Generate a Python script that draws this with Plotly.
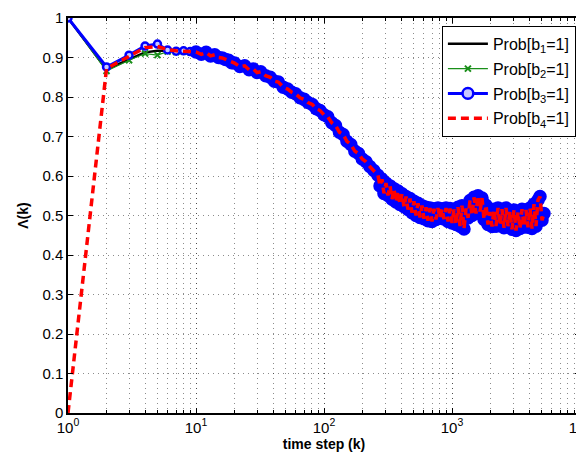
import plotly.graph_objects as go

# ---- data ----
# early steps k = 1..9 (series differ here)
k_head = [1, 2, 3, 4, 5, 6, 7, 8, 9]
b1_head = [1.0, 0.870, 0.895, 0.913, 0.917, 0.918, 0.917, 0.916, 0.915]
b2_head = [1.0, 0.866, 0.893, 0.910, 0.906, 0.915, 0.914, 0.915, 0.914]
b3_head = [1.0, 0.876, 0.906, 0.929, 0.934, 0.919, 0.916, 0.917, 0.915]
b4_head = [0.0, 0.872, 0.903, 0.925, 0.928, 0.920, 0.917, 0.917, 0.915]

# k >= 10: all four series coincide
k_tail = [10, 11, 12, 13, 14, 15, 16, 17, 18, 19, 20, 22, 24, 26, 28, 30, 32, 35, 38, 41,
          44, 48, 52, 56, 60, 65, 70, 75, 81, 87, 93, 100, 107, 115, 123, 132, 141, 151, 162,
          174, 186, 199, 213, 228, 245,
          264, 274, 284, 294, 305, 316, 328, 340, 352, 365, 379, 392, 407, 422, 437, 453, 470,
          487, 505, 523, 543, 562, 583, 604, 627, 649, 673, 698, 723, 750, 777, 806, 835, 866,
          898, 931, 965, 1000, 1037, 1075, 1114, 1155, 1197, 1241, 1287, 1334, 1383, 1433,
          1486, 1540, 1597, 1655, 1716, 1778, 1844, 1911, 1981, 2054, 2129, 2207, 2288, 2371,
          2458, 2548, 2642, 2738, 2839, 2943, 3050, 3162, 3278, 3398, 3522, 3652, 3785, 3924,
          4068, 4217, 4371, 4532, 4698, 4870, 5048, 5233]
v_tail = [0.914, 0.908, 0.913, 0.904, 0.907, 0.900, 0.899, 0.895, 0.893, 0.887, 0.886, 0.877,
          0.879, 0.869, 0.871, 0.862, 0.864, 0.854, 0.850, 0.840, 0.838, 0.825, 0.820, 0.812,
          0.808, 0.798, 0.794, 0.786, 0.781, 0.770, 0.766, 0.755, 0.750, 0.735, 0.728, 0.711,
          0.705, 0.688, 0.680, 0.663, 0.657, 0.643, 0.636, 0.624, 0.614,
          0.602, 0.575, 0.592, 0.556, 0.582, 0.551, 0.575, 0.541, 0.568, 0.534, 0.562, 0.528,
          0.555, 0.522, 0.548, 0.515, 0.543, 0.507, 0.536, 0.500, 0.531, 0.495, 0.525, 0.492,
          0.521, 0.487, 0.519, 0.485, 0.517, 0.490, 0.519, 0.493, 0.517, 0.491, 0.519, 0.485,
          0.518, 0.481, 0.515, 0.477, 0.521, 0.473, 0.525, 0.466, 0.518, 0.494, 0.538, 0.500,
          0.546, 0.505, 0.550, 0.510, 0.544, 0.490, 0.526, 0.477, 0.509, 0.472, 0.516, 0.473,
          0.519, 0.475, 0.516, 0.469, 0.519, 0.473, 0.512, 0.465, 0.514, 0.462, 0.509, 0.467,
          0.516, 0.471, 0.514, 0.470, 0.519, 0.467, 0.529, 0.473, 0.539, 0.548, 0.488, 0.505]

x_tick_vals = [1, 10, 100, 1000, 10000]
x_tick_text = ["10<sup>0</sup>", "10<sup>1</sup>", "10<sup>2</sup>", "10<sup>3</sup>", "10<sup>4</sup>"]
series_names = ["Prob[b<sub>1</sub>=1]", "Prob[b<sub>2</sub>=1]",
                "Prob[b<sub>3</sub>=1]", "Prob[b<sub>4</sub>=1]"]

k_all = k_head + k_tail
b1 = b1_head + v_tail
b2 = b2_head + v_tail
b3 = b3_head + v_tail
b4 = b4_head + v_tail

fig = go.Figure()
fig.add_trace(go.Scatter(x=k_all, y=b1, mode="lines", name=series_names[0], legendgroup="g1",
                         line=dict(color="black", width=2.5)))
fig.add_trace(go.Scatter(x=k_all, y=b2, mode="lines+markers", name=series_names[1], legendgroup="g2",
                         line=dict(color="#1a8f1a", width=1.2),
                         marker=dict(symbol="x-thin", size=6, line=dict(color="#1a8f1a", width=2))))
fill = ["#c8c8ff" if k < 10 else "blue" for k in k_all]
msize = [7 if k < 10 else 11 for k in k_all]
fig.add_trace(go.Scatter(x=k_all, y=b3, mode="lines+markers", name=series_names[2], legendgroup="g3",
                         line=dict(color="blue", width=3),
                         marker=dict(symbol="circle", size=msize, color=fill, opacity=1,
                                     line=dict(color="blue", width=2.5))))
fig.add_trace(go.Scatter(x=k_all, y=b4, mode="lines", name=series_names[3], legendgroup="g4",
                         line=dict(color="red", width=3.5, dash="8px,5px")))

font = "Liberation Sans, Arial, Helvetica, sans-serif"
gcol = "rgba(0,0,0,0.45)"
grid = dict(showgrid=True, gridcolor=gcol, griddash="1px,4px", gridwidth=1)
fig.update_layout(
    width=584, height=453,
    margin=dict(l=60, r=12, t=10, b=48),
    paper_bgcolor="white", plot_bgcolor="white",
    font=dict(family=font, size=15, color="black"),
    showlegend=True,
    legend=dict(x=0.992, xanchor="right", y=0.98, yanchor="top",
                bgcolor="white", bordercolor="black", borderwidth=1,
                font=dict(size=16, family=font), tracegroupgap=1, itemwidth=40),
    xaxis=dict(type="log", range=[0, 4], tickvals=x_tick_vals, ticktext=x_tick_text,
               ticks="inside", ticklen=5, tickcolor="black", mirror="allticks",
               showline=True, linecolor="black", linewidth=1.5, zeroline=False,
               automargin=False, tickfont=dict(size=15), ticklabeloverflow="allow",
               minor=dict(dtick="D1", ticks="inside", ticklen=3, tickcolor="black",
                          showgrid=True, gridcolor=gcol, griddash="1px,4px"),
               title=dict(text="<b>time step (k)</b>", font=dict(size=14), standoff=4),
               **grid),
    yaxis=dict(range=[0, 1], dtick=0.1, ticks="inside", ticklen=5, tickcolor="black",
               mirror="allticks", showline=True, linecolor="black", linewidth=1.5,
               zeroline=False, automargin=False, tickfont=dict(size=15),
               ticklabeloverflow="allow",
               title=dict(text="<b>Λ(k)</b>", font=dict(size=14), standoff=10),
               **grid),
)
fig.write_html("out.html")
